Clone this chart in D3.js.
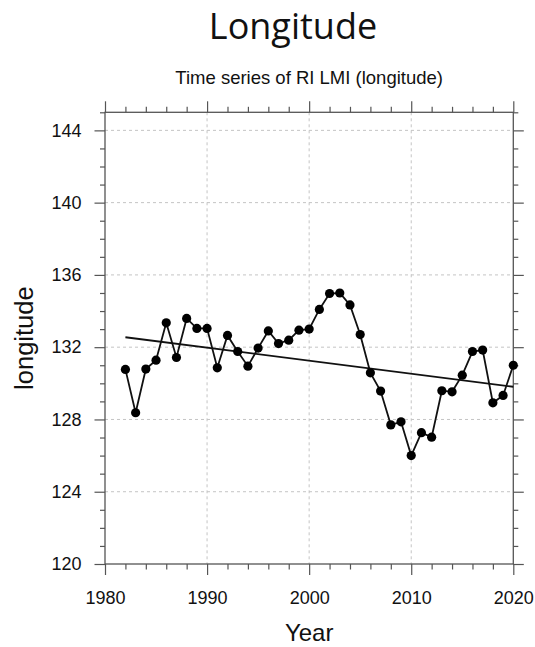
<!DOCTYPE html>
<html>
<head>
<meta charset="utf-8">
<script src="https://cdn.jsdelivr.net/npm/d3@7"></script>
<style>
  html, body { margin: 0; padding: 0; background: #fff; }
  svg { display: block; }
  text { font-family: "Liberation Sans", Arial, sans-serif; fill: #111; }
</style>
</head>
<body>
<svg id="chart" width="535" height="647"></svg>
<script>
// Annual RI LMI longitude, 1982-2020
const years = d3.range(1982, 2021);
const longitudes = [
  130.77, 128.37, 130.79, 131.28, 133.35, 131.43, 133.59, 133.04, 133.04,
  130.86, 132.65, 131.76, 130.95, 131.95, 132.90, 132.20, 132.39, 132.94,
  133.00, 134.09, 134.97, 135.00, 134.34, 132.70, 130.58, 129.57, 127.70,
  127.87, 126.00, 127.27, 127.02, 129.59, 129.53, 130.45, 131.76, 131.84,
  128.92, 129.33, 131.00
];
// Linear trend line, end points
const trendYears = [1982, 2020];
const trendValues = [132.55, 129.81];

// Axis ticks
const xMajorTicks = [1980, 1990, 2000, 2010, 2020];
const xMinorTicks = d3.range(1980, 2021, 2).filter(v => v % 10 !== 0);
const yMajorTicks = [120, 124, 128, 132, 136, 140, 144];
const yMinorTicks = d3.range(120, 146, 1).filter(v => v % 4 !== 0);

const mainTitle = "Longitude";
const subTitle = "Time series of RI LMI (longitude)";
const xTitle = "Year";
const yTitle = "longitude";

const svg = d3.select("#chart");
const L = 105, R = 513.3, T = 112.3, B = 564;

const x = d3.scaleLinear().domain([1980, 2020]).range([L, R]);
const y = d3.scaleLinear().domain([120, 145]).range([B, T]);

svg.append("rect").attr("width", 535).attr("height", 647).attr("fill", "#fff");

// dashed grid
const grid = svg.append("g").attr("stroke", "#c4c4c4").attr("stroke-width", 1)
  .attr("stroke-dasharray", "3,3");
grid.selectAll("line.gx").data(xMajorTicks.filter(v => v > 1980 && v < 2020)).join("line")
  .attr("x1", d => x(d)).attr("x2", d => x(d)).attr("y1", T).attr("y2", B);
grid.selectAll("line.gy").data(yMajorTicks.filter(v => v > 120)).join("line")
  .attr("x1", L).attr("x2", R).attr("y1", d => y(d)).attr("y2", d => y(d));

// axes: major and minor ticks on all four sides, pointing outward
function styleAxis(g) {
  g.select(".domain").remove();
  g.selectAll(".tick line").attr("stroke", "#555").attr("stroke-width", 1.2);
  g.selectAll(".tick text").style("font-size", "18px").attr("fill", "#111");
}
svg.append("g").attr("transform", `translate(0,${B})`)
  .call(d3.axisBottom(x).tickValues(xMajorTicks).tickFormat(d3.format("d")).tickSize(11).tickPadding(16))
  .call(styleAxis);
svg.append("g").attr("transform", `translate(0,${B})`)
  .call(d3.axisBottom(x).tickValues(xMinorTicks).tickFormat("").tickSize(5.5))
  .call(styleAxis);
svg.append("g").attr("transform", `translate(0,${T})`)
  .call(d3.axisTop(x).tickValues(xMajorTicks).tickFormat("").tickSize(11))
  .call(styleAxis);
svg.append("g").attr("transform", `translate(0,${T})`)
  .call(d3.axisTop(x).tickValues(xMinorTicks).tickFormat("").tickSize(5.5))
  .call(styleAxis);
svg.append("g").attr("transform", `translate(${L},0)`)
  .call(d3.axisLeft(y).tickValues(yMajorTicks).tickFormat(d3.format("d")).tickSize(10.5).tickPadding(13))
  .call(styleAxis);
svg.append("g").attr("transform", `translate(${L},0)`)
  .call(d3.axisLeft(y).tickValues(yMinorTicks).tickFormat("").tickSize(5))
  .call(styleAxis);
svg.append("g").attr("transform", `translate(${R},0)`)
  .call(d3.axisRight(y).tickValues(yMajorTicks).tickFormat("").tickSize(10.5))
  .call(styleAxis);
svg.append("g").attr("transform", `translate(${R},0)`)
  .call(d3.axisRight(y).tickValues(yMinorTicks).tickFormat("").tickSize(5))
  .call(styleAxis);

// frame
svg.append("rect").attr("x", L).attr("y", T).attr("width", R - L).attr("height", B - T)
  .attr("fill", "none").attr("stroke", "#555").attr("stroke-width", 1.3);

// trend line
svg.append("path")
  .datum(trendYears.map((yr, i) => [yr, trendValues[i]]))
  .attr("fill", "none").attr("stroke", "#111").attr("stroke-width", 1.8)
  .attr("d", d3.line().x(d => x(d[0])).y(d => y(d[1])));

// series line and markers
const pts = years.map((yr, i) => [yr, longitudes[i]]);
svg.append("path").datum(pts)
  .attr("fill", "none").attr("stroke", "#111").attr("stroke-width", 1.8)
  .attr("d", d3.line().x(d => x(d[0])).y(d => y(d[1])));
svg.append("g").selectAll("circle").data(pts).join("circle")
  .attr("cx", d => x(d[0])).attr("cy", d => y(d[1])).attr("r", 4.6).attr("fill", "#000");

// titles
svg.append("text").attr("x", 293).attr("y", 39).attr("text-anchor", "middle")
  .style("font-family", "'Open Sans', 'Noto Sans', sans-serif").style("font-size", "36px")
  .attr("fill", "#000").text(mainTitle);
svg.append("text").attr("x", (L + R) / 2).attr("y", 84).attr("text-anchor", "middle")
  .style("font-size", "18.5px").text(subTitle);
svg.append("text").attr("x", (L + R) / 2).attr("y", 641).attr("text-anchor", "middle")
  .style("font-size", "24px").text(xTitle);
svg.append("text").attr("transform", `translate(33,${(T + B) / 2}) rotate(-90)`)
  .attr("text-anchor", "middle").style("font-size", "25.5px").text(yTitle);
</script>
</body>
</html>
